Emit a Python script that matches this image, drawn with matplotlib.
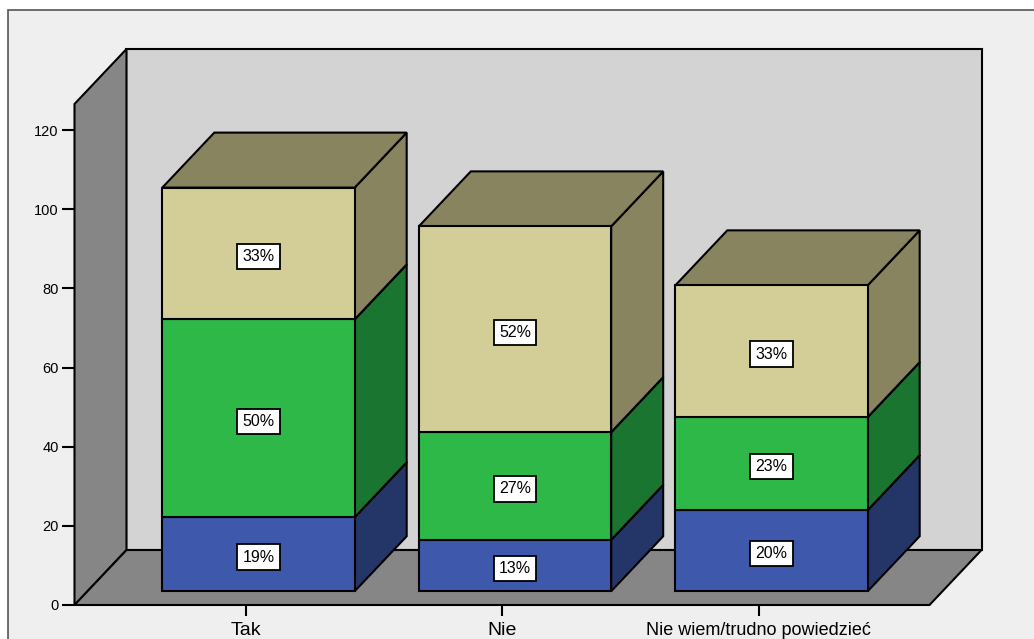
import matplotlib
matplotlib.use("Agg")
import matplotlib.pyplot as plt
from matplotlib.patches import Polygon, Rectangle
from matplotlib.transforms import ScaledTranslation

plt.rcParams["font.family"] = ["Liberation Sans", "DejaVu Sans"]

categories = ["Tak", "Nie", "Nie wiem/trudno powiedzieć"]
blue_vals = [18.7, 13, 20.5]
green_vals = [50, 27.2, 23.5]
tan_vals = [33.3, 52, 33.3]
blue_labels = ["19%", "13%", "20%"]
green_labels = ["50%", "27%", "23%"]
tan_labels = ["33%", "52%", "33%"]
yticks = [0, 20, 40, 60, 80, 100, 120]

W, H = 1034, 639
DEPTH_X, DEPTH_Y = 52, 55
YMAX = 126.6
BAR_W = 0.75

fig = plt.figure(figsize=(W / 100, H / 100), dpi=100, facecolor="white")
fig.patches.append(Rectangle((7.5 / W, -0.01), 1.0, 1 - 10 / H + 0.01, transform=fig.transFigure,
                             facecolor="#efefef", edgecolor="#555555", linewidth=1.2, zorder=-1))

ax = fig.add_axes([74.5 / W, (H - 605) / H, 855 / W, 501 / H])
ax.set_xlim(-2 / 3, 8 / 3)
ax.set_ylim(0, YMAX)
ax.patch.set_visible(False)
for s in ax.spines.values():
    s.set_visible(False)

off_x = DEPTH_X / 256.5
off_y = DEPTH_Y / 3.958


def depth(frac, drop=0):
    # shift along the 3d depth direction, in pixels
    return ax.transData + ScaledTranslation(DEPTH_X * frac / 100, (DEPTH_Y * frac - drop) / 100, fig.dpi_scale_trans)


def poly(points, color, frac=0, z=1):
    ax.add_patch(Polygon(points, closed=True, facecolor=color, edgecolor="black", linewidth=1.5,
                         joinstyle="miter", transform=depth(frac), clip_on=False, zorder=z))


def box(x0, x1, y0, y1, front, side, top, z):
    # sides first, front last. front face sits at 0.25 of the depth
    poly([(x1, y0), (x1 + off_x, y0 + off_y), (x1 + off_x, y1 + off_y), (x1, y1)], side, 0.25, z)
    poly([(x0, y1), (x1, y1), (x1 + off_x, y1 + off_y), (x0 + off_x, y1 + off_y)], top, 0.25, z)
    poly([(x0, y0), (x1, y0), (x1, y1), (x0, y1)], front, 0.25, z)


xl, xr = ax.get_xlim()
# walls and floor
poly([(xl, 0), (xr, 0), (xr, YMAX), (xl, YMAX)], "#d3d3d3", 1)
poly([(xl, 0), (xl + off_x, off_y), (xl + off_x, YMAX + off_y), (xl, YMAX)], "#868686")
poly([(xl, 0), (xr, 0), (xr + off_x, off_y), (xl + off_x, off_y)], "#868686")

for i in range(len(categories)):
    x0 = i - BAR_W / 2
    x1 = i + BAR_W / 2
    b = blue_vals[i]
    g = b + green_vals[i]
    t = g + tan_vals[i]
    z = 2 + i
    box(x0, x1, 0, b, "#3e58ac", "#243668", "#243668", z)
    box(x0, x1, b, g, "#2eb848", "#1a7530", "#1a7530", z)
    box(x0, x1, g, t, "#d3ce97", "#87845f", "#87845f", z)
    for lo, val, lab in [(0, b, blue_labels[i]), (b, green_vals[i], green_labels[i]), (g, tan_vals[i], tan_labels[i])]:
        ax.text(i, lo + val / 2, lab, transform=depth(0.25, 3), ha="center", va="center", fontsize=11.5, color="black",
                zorder=10, bbox=dict(boxstyle="square,pad=0.33", facecolor="white", edgecolor="black", linewidth=1.3))

ax.set_yticks(yticks)
ax.set_xticks(range(len(categories)))
ax.set_xticklabels(categories)
ax.tick_params(axis="y", length=9.5, width=1.5, labelsize=10.5, pad=2)
ax.tick_params(axis="x", length=8, width=1.5, labelsize=14, pad=4.5)
ax.get_xticklabels()[2].set_fontsize(13)

fig.savefig("out.png", dpi=100)
